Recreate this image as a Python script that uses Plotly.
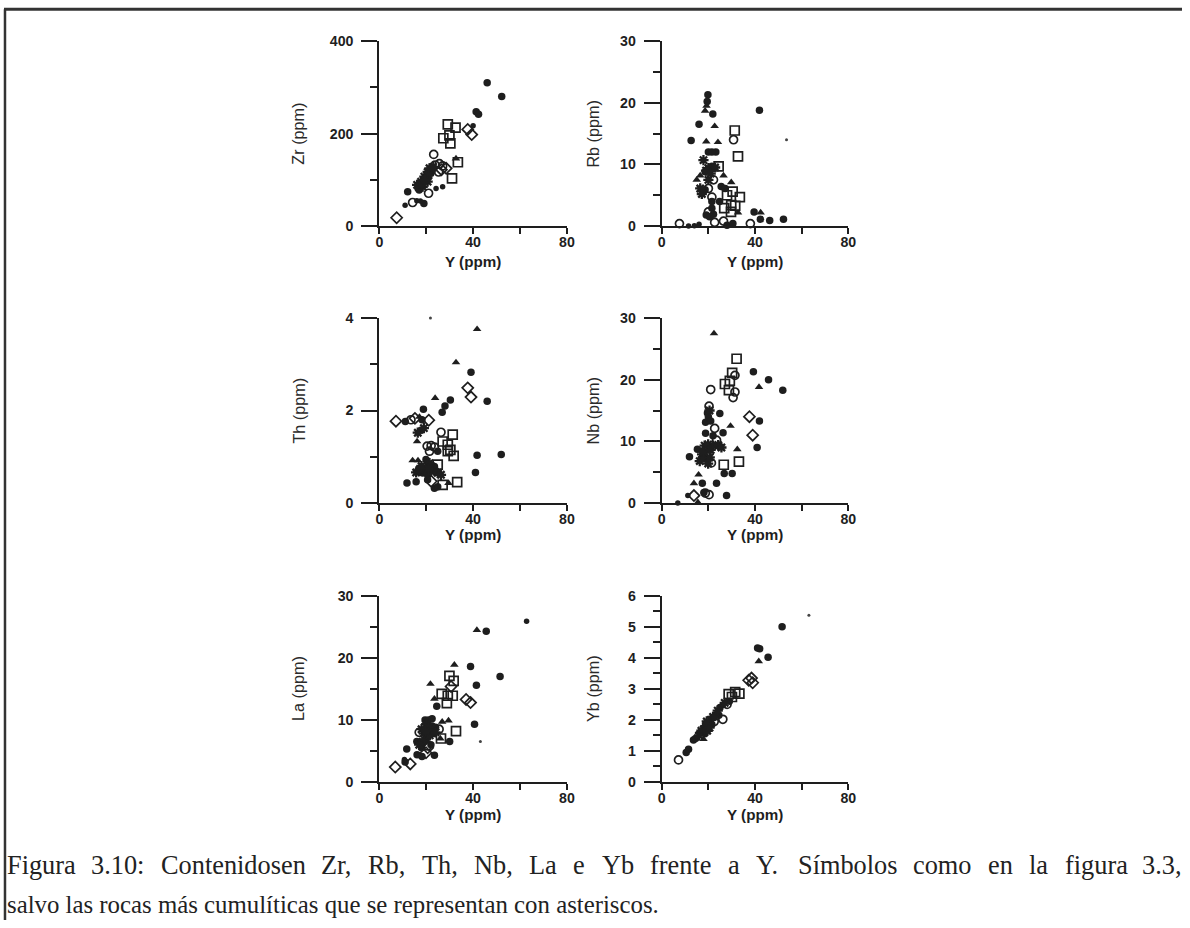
import plotly.graph_objects as go

# ---------------- data (Y ppm, element ppm, rock group code) ----------------
# group codes: F big filled circle, f small filled dot, O open circle, S open square,
# T filled triangle, D open diamond, A cumulitic (asterisk), p tiny dot
zr_y = [7.4, 11, 14.2, 16, 17.5, 19, 12.1, 21, 24.2, 27,
        16.1, 17, 17.8, 19.2, 19.9, 20.6, 21.4, 22, 18.5, 20.6, 16.5, 18, 21, 22.5, 23, 19.5,
        23.2, 23.8, 25.6, 27, 25.3, 28.5, 26.5, 32.7,
        29.2, 32.5, 29.9, 27.3, 30.3, 33.5, 31, 37.7, 39.4, 40, 41.3, 42.3, 46, 52.2]
zr_v = [18, 45, 51, 55, 54, 49, 74, 71, 81, 85,
        89, 78, 96, 107, 103, 117, 125, 114, 85, 96, 82, 90, 110, 120, 128, 100,
        155, 132, 135, 130, 117, 125, 122, 146,
        220, 213, 196, 190, 179, 138, 103, 209, 198, 217, 247, 242, 310, 280]
zr_g = ["D", "f", "O", "f", "f", "F", "F", "O", "f", "f",
        "A", "F", "A", "A", "F", "A", "A", "F", "A", "A", "F", "A", "A", "F", "A", "A",
        "O", "O", "O", "O", "O", "D", "D", "T",
        "S", "S", "S", "S", "S", "S", "S", "D", "D", "f", "F", "F", "F", "F"]

rb_y = [7.6, 11.5, 14, 16, 12.6, 16, 19.8, 19.5, 18.6, 21.9, 19.2, 22.7, 19.1, 24.1,
        20, 23.2, 21.5, 17.9, 20, 21.5, 22.9, 24.4, 16.5, 18.6, 15, 20, 22.2, 16.5, 18.6,
        20, 17.2, 21.5, 26.5, 29.8, 25.5, 27.2, 24.8, 21.5, 19, 21,
        31.3, 30.8, 32.7, 30.4, 33.5, 28, 26.8, 29.8, 31.5, 29.7, 32.7,
        19.1, 20.5, 22.2, 20, 21.5, 22.7, 26.5, 28, 30.5, 38,
        39.6, 42.4, 42.3, 46.3, 52.2, 41.9, 53.5]
rb_v = [0.4, 0, 0.05, 0.3, 13.9, 16.5, 21.3, 20.2, 18.7, 18.2, 19.5, 16.2, 13.7, 13.6,
        12, 12, 12, 10.7, 9.4, 9.7, 9.5, 9.7, 8.2, 8.8, 7.5, 7.5, 7.5, 6.1, 5.9,
        6.1, 5.2, 4.7, 8.2, 7.1, 6.4, 6.1, 4.0, 4.0, 9.0, 8.5,
        15.5, 14, 11.3, 5.6, 4.7, 5.0, 2.9, 3.4, 3.3, 2.3, 2.2,
        1.8, 1.5, 1.9, 2.3, 2.9, 0.6, 0.8, 0.15, 0.4, 0.4,
        2.3, 2.2, 1.1, 0.9, 1.1, 18.8, 14]
rb_g = ["O", "f", "f", "f", "F", "F", "F", "F", "T", "F", "T", "T", "T", "T",
        "F", "F", "F", "A", "A", "F", "A", "S", "T", "F", "T", "A", "O", "A", "F",
        "O", "A", "O", "T", "T", "F", "F", "F", "F", "A", "A",
        "S", "O", "S", "S", "S", "S", "S", "S", "S", "S", "T",
        "F", "F", "F", "O", "F", "O", "O", "F", "F", "O",
        "F", "T", "F", "F", "F", "F", "p"]

th_y = [41.7, 32.7, 39.1, 37.7, 39.1, 46, 23.8, 30.3, 28, 26.8, 18.8,
        7.1, 11.1, 13.5, 15.2, 17.1, 18.2, 21.1, 16.4, 18, 19, 16.1,
        20.4, 22.1, 23.5, 21.4, 24.9, 26.3, 27, 31.3, 29.2, 30.3, 31.7, 29.2, 24.9,
        41.7, 52, 41, 14.2, 15.7, 17.1, 18.5, 19.9, 20.6, 22.1, 23.5, 24.9, 26.3, 19.9,
        21.4, 16.5, 20.6, 22.1, 18, 19, 21,
        11.8, 15.7, 23.5, 24.9, 27, 29.5, 33.2, 21.8]
th_v = [3.76, 3.04, 2.83, 2.49, 2.29, 2.2, 2.27, 2.23, 2.1, 1.96, 2.03,
        1.77, 1.76, 1.8, 1.83, 1.86, 1.8, 1.79, 1.52, 1.58, 1.62, 1.33,
        1.23, 1.24, 1.21, 1.12, 1.12, 1.53, 1.33, 1.48, 1.26, 1.15, 1.02, 1.12, 0.83,
        1.03, 1.05, 0.66, 0.92, 0.66, 0.72, 0.65, 0.76, 0.61, 0.68, 0.79, 0.65, 0.61, 0.94,
        0.86, 0.92, 0.5, 0.47, 0.8, 0.7, 0.75,
        0.43, 0.46, 0.32, 0.35, 0.39, 0.43, 0.45, 4.0]
th_g = ["T", "T", "F", "D", "D", "F", "T", "F", "F", "F", "F",
        "D", "F", "O", "D", "T", "F", "D", "A", "F", "A", "T",
        "O", "O", "O", "O", "F", "O", "S", "S", "S", "S", "S", "S", "S",
        "F", "F", "F", "T", "A", "A", "F", "A", "F", "A", "F", "A", "A", "F",
        "A", "T", "F", "D", "A", "F", "A",
        "F", "F", "F", "F", "S", "T", "S", "p"]

nb_y = [22.4, 32.1, 39.3, 45.8, 51.9, 41.7, 30.2, 27.1, 29.2, 28.8, 31.4, 30.6, 31.4,
        21, 20.3, 22.7, 23.5, 19.6, 20, 20.5, 24.9, 18.8, 21,
        29.5, 26.3, 18.8, 22, 37.6, 39, 41.9, 40.9, 32.4,
        15.3, 17.3, 18.4, 19.9, 22, 24.2, 25.6, 16.3, 17.7, 19.1, 19.9, 20.6, 11.9, 18, 21,
        26.6, 33.1, 21.3, 26.8, 30.2, 15.8, 13.8, 17.4, 23.5, 27.8,
        13.8, 11.2, 18.7, 20.3, 18.1, 15.5, 6.9]
nb_v = [27.5, 23.4, 21.3, 20, 18.3, 18.8, 21.1, 19.3, 19.8, 18.3, 18, 17.1, 20.7,
        18.4, 15.7, 12.1, 10.2, 14.6, 14, 15, 14.5, 13.1, 13.3,
        12.5, 11.4, 11.3, 10.9, 14, 11, 13.3, 9, 8.7,
        8.7, 7.9, 9.3, 9.5, 9.3, 9.4, 9, 6.8, 7.4, 7.1, 6.4, 7.4, 7.5, 8.3, 8.6,
        6.2, 6.7, 6.5, 4.8, 4.8, 4.6, 3.2, 3.2, 3.2, 1.2,
        1.2, 1.2, 1.6, 1.35, 1.7, 0.1, 0]
nb_g = ["T", "S", "F", "F", "F", "T", "S", "S", "S", "S", "O", "O", "O",
        "O", "O", "O", "O", "F", "F", "A", "F", "F", "F",
        "T", "F", "F", "F", "D", "D", "F", "F", "T",
        "F", "A", "A", "A", "A", "A", "A", "A", "A", "F", "A", "A", "F", "A", "A",
        "S", "S", "O", "F", "F", "T", "T", "F", "F", "F",
        "D", "f", "O", "O", "F", "T", "f"]

la_y = [62.8, 41.6, 45.6, 32, 38.9, 51.5, 29.9, 31.7, 30.6, 26.6, 29.2, 31.3, 28.8,
        21.8, 23.5, 24.5, 41.4, 40.6, 37, 38.9, 29.5, 26.8, 32.7,
        19.5, 21, 22.5, 20, 18, 17, 19, 21, 22.5, 24, 25.5, 20, 18.5, 17, 16, 21.5, 23, 22,
        20.5, 18, 26, 24, 19.8,
        26.3, 30, 23.5, 18.2, 16.1, 20.6, 19.9, 11.7, 10.7, 11, 13.2, 6.8, 43.1]
la_v = [25.9, 24.5, 24.3, 18.9, 18.6, 17, 17.1, 16.3, 15.4, 14.2, 13.9, 13.9, 12.7,
        15.8, 13.4, 12.2, 15.6, 9.3, 13.3, 12.8, 9.9, 9.7, 8.2,
        10, 10, 10.2, 9.3, 8.5, 8, 7.8, 8.8, 9, 8.8, 8.5, 7, 6.5, 6, 6.5, 7.5, 7.8, 6,
        5.8, 5.5, 7, 8, 8.2,
        7, 6.5, 4.3, 4.1, 4.4, 5.5, 4.7, 5.3, 3.6, 3.2, 2.9, 2.4, 6.5]
la_g = ["f", "T", "F", "T", "F", "F", "S", "S", "D", "S", "S", "S", "S",
        "T", "T", "F", "F", "F", "D", "D", "T", "T", "S",
        "F", "F", "F", "A", "A", "O", "A", "A", "F", "F", "O", "A", "A", "A", "F", "A", "F", "F",
        "O", "F", "T", "A", "A",
        "S", "F", "F", "F", "F", "D", "D", "F", "f", "F", "D", "D", "p"]

yb_y = [51.6, 63.1, 41.1, 42, 45.6, 41.6, 37.3, 39, 38.5, 28.7, 31.5, 33.3, 30.1, 26.2,
        7.2, 10.5, 11.5, 13.6, 15.8, 17.9, 14.5, 16, 17, 18, 18.5, 19, 19.5, 20, 20.5,
        21, 21.5, 22, 22.5, 23, 24, 24.5, 25, 26, 27, 28, 29, 19.3, 18.8]
yb_v = [5.01, 5.38, 4.32, 4.3, 4.02, 3.89, 3.28, 3.2, 3.35, 2.83, 2.9, 2.85, 2.74, 2.02,
        0.71, 0.95, 1.05, 1.35, 1.6, 1.38, 1.4, 1.5, 1.65, 1.7, 1.55, 1.8, 1.65, 1.9, 1.75,
        2.0, 1.85, 2.1, 1.95, 2.2, 2.3, 2.15, 2.4, 2.45, 2.55, 2.5, 2.6, 1.95, 1.85]
yb_g = ["F", "p", "F", "F", "F", "T", "D", "D", "D", "S", "S", "S", "S", "O",
        "O", "F", "F", "F", "T", "T", "F", "A", "A", "A", "F", "A", "A", "F", "A",
        "A", "F", "A", "O", "T", "A", "F", "F", "T", "A", "O", "F", "A", "F"]

y_title = "Y (ppm)"
panel_titles = ["Zr (ppm)", "Rb (ppm)", "Th (ppm)", "Nb (ppm)", "La (ppm)", "Yb (ppm)"]
x_ticks = [0, 40, 80]
x_minor = [20, 60]
y_major = [[0, 200, 400], [0, 10, 20, 30], [0, 2, 4], [0, 10, 20, 30], [0, 10, 20, 30],
           [0, 1, 2, 3, 4, 5, 6]]
y_minor = [[100, 300], [5, 15, 25], [1, 3], [5, 15, 25], [5, 15, 25],
           [0.5, 1.5, 2.5, 3.5, 4.5, 5.5]]

caption1 = ["Figura", "3.10:", "Contenidosen", "Zr,", "Rb,", "Th,", "Nb,", "La", "e", "Yb",
            "frente", "a", "Y.", "Símbolos", "como", "en", "la", "figura", "3.3,"]
caption2 = "salvo las rocas más cumulíticas que se representan con asteriscos."

# ---------------- layout geometry ----------------
# Target positions are given in picture pixels; the page shows the figure inside an
# 8 px body margin and the photograph is scaled slightly, so convert accordingly.
W, H, OFF = 1190, 928, 8
KX, KY = 1190 / 1206, 928 / 944
S = 1 / KX  # pixel size compensation


def fx(p):
    return (p / KX - OFF) / W


def fy(p):
    return 1 - (p / KY - OFF) / H


INK = "#1e1e1e"
styles = {
    "F": dict(symbol="circle", size=7.5, color=INK, line=dict(width=0)),
    "f": dict(symbol="circle", size=5.5, color=INK, line=dict(width=0)),
    "p": dict(symbol="circle", size=3, color="#444", line=dict(width=0)),
    "O": dict(symbol="circle-open", size=8, color=INK, line=dict(width=1.7, color=INK)),
    "S": dict(symbol="square-open", size=9, color=INK, line=dict(width=1.7, color=INK)),
    "T": dict(symbol="triangle-up", size=7.5, color=INK, line=dict(width=0)),
    "D": dict(symbol="diamond-open", size=8.5, color=INK, line=dict(width=1.7, color=INK)),
    "A": dict(symbol="asterisk-open", size=8.5, color=INK, line=dict(width=2.3, color=INK)),
}

cols_px = [(382, 569), (663.5, 849.5)]
rows_px = [(41, 226), (318, 503), (596, 782)]
ytitle_x_px = [301, 595]
xtitle_y_px = [261, 535, 815]

panels = [(zr_y, zr_v, zr_g), (rb_y, rb_v, rb_g), (th_y, th_v, th_g),
          (nb_y, nb_v, nb_g), (la_y, la_v, la_g), (yb_y, yb_v, yb_g)]

fig = go.Figure()
shapes = []
annotations = []
tickfont = dict(family="Liberation Sans, Arial, sans-serif", size=14 * S, color=INK,
                weight="bold")

for i, (xs, vs, gs) in enumerate(panels):
    n = i + 1
    r, c = divmod(i, 2)
    xa = "x" if n == 1 else f"x{n}"
    ya = "y" if n == 1 else f"y{n}"
    for code in ["F", "f", "p", "O", "S", "T", "D", "A"]:
        px = [x for x, g in zip(xs, gs) if g == code]
        py = [v for v, g in zip(vs, gs) if g == code]
        if not px:
            continue
        fig.add_trace(go.Scatter(x=px, y=py, mode="markers", marker=styles[code],
                                 xaxis=xa, yaxis=ya, cliponaxis=False,
                                 showlegend=False, hoverinfo="x+y"))
    x0p, x1p = cols_px[c]
    y0p, y1p = rows_px[r]
    ymax = y_major[i][-1]
    fig.layout[f"xaxis{'' if n == 1 else n}"] = dict(
        domain=[fx(x0p), fx(x1p)], anchor=ya, range=[0, 80],
        showline=True, linewidth=2, linecolor=INK, showgrid=False, zeroline=False,
        ticks="outside", tickvals=x_ticks, ticklen=6, tickwidth=2, tickcolor=INK,
        minor=dict(tickvals=x_minor, ticks="outside", ticklen=6, tickwidth=2, tickcolor=INK),
        tickfont=tickfont, ticklabelstandoff=-4, fixedrange=True)
    fig.layout[f"yaxis{'' if n == 1 else n}"] = dict(
        domain=[fy(y1p), fy(y0p)], anchor=xa, range=[0, ymax],
        showline=True, linewidth=2, linecolor=INK, showgrid=False, zeroline=False,
        ticks="outside", tickvals=y_major[i], ticklen=16, tickwidth=2, tickcolor=INK,
        minor=dict(tickvals=y_minor[i], ticks="outside", ticklen=7, tickwidth=2, tickcolor=INK),
        tickfont=tickfont, ticklabelstandoff=5, fixedrange=True)
    # long end ticks at x = 0 and x = 80
    for xv in (x_ticks[0], x_ticks[-1]):
        shapes.append(dict(type="line", xref=xa, yref=ya, ysizemode="pixel", yanchor=0,
                           x0=xv, x1=xv, y0=0, y1=-14, line=dict(color=INK, width=2)))
    annotations.append(dict(text=y_title, xref="paper", yref="paper",
                            x=fx((x0p + x1p) / 2), y=fy(xtitle_y_px[r]),
                            xanchor="center", yanchor="middle", showarrow=False,
                            borderpad=0,
                            font=dict(family="Liberation Sans, Arial, sans-serif",
                                      size=15 * S, color=INK, weight="bold")))
    annotations.append(dict(text=panel_titles[i], xref="paper", yref="paper",
                            x=fx(ytitle_x_px[c]), y=fy((y0p + y1p) / 2), textangle=-90,
                            xanchor="center", yanchor="middle", showarrow=False,
                            font=dict(family="Liberation Sans, Arial, sans-serif",
                                      size=16 * S, color="#2a2a2a")))

# frame (top and left rules of the scanned page)
shapes.append(dict(type="line", xref="paper", yref="paper", x0=0, x1=1, y0=fy(9),
                   y1=fy(9), line=dict(color="#333", width=3)))
shapes.append(dict(type="line", xref="paper", yref="paper", x0=1 / W, x1=1 / W, y0=0,
                   y1=fy(9), line=dict(color="#333", width=2.5)))

# caption: first line justified word by word
cap_x = [9, 92.5, 162, 321.5, 369, 422.5, 474.5, 529.5, 573.5, 601.5, 650, 727.5, 755.5,
         797.5, 912, 987, 1028, 1063, 1140]
capfont = dict(family="Liberation Serif, Times New Roman, serif", size=26 * S, color="#222")
for w, xp in zip(caption1, cap_x):
    annotations.append(dict(text=w, xref="paper", yref="paper", x=fx(xp), y=fy(866),
                            xanchor="left", yanchor="middle", showarrow=False, font=capfont))
annotations.append(dict(text=caption2, xref="paper", yref="paper", x=fx(9), y=fy(905),
                        xanchor="left", yanchor="middle", showarrow=False,
                        font=dict(capfont, size=24.5 * S)))

fig.update_layout(width=W, height=H, margin=dict(l=0, r=0, t=0, b=0),
                  paper_bgcolor="white", plot_bgcolor="white",
                  shapes=shapes, annotations=annotations, showlegend=False)

fig.write_html("out.html", config={"displayModeBar": False})
